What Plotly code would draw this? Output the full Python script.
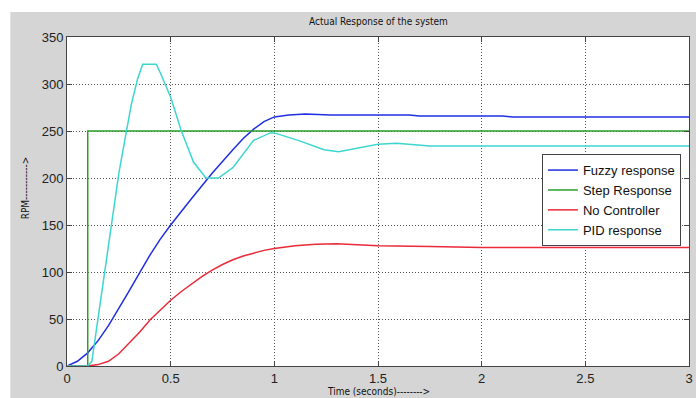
import plotly.graph_objects as go

# ---- data ----
fuzzy_t = [0, 0.05, 0.1, 0.15, 0.2, 0.25, 0.3, 0.35, 0.4, 0.45, 0.5, 0.6, 0.7, 0.8, 0.85, 0.9, 0.95, 1.0, 1.07, 1.15, 1.27, 1.65, 1.7, 2.1, 2.15, 3.0]
fuzzy_y = [0, 5, 14, 27, 43, 61, 80, 99, 118, 135, 150, 178, 205, 230, 242, 252, 260, 265, 267, 268, 267, 267, 266, 266, 265, 265]

step_t = [0, 0.1, 0.1, 3.0]
step_y = [0, 0, 250, 250]

noctl_t = [0, 0.1, 0.15, 0.2, 0.25, 0.3, 0.35, 0.4, 0.45, 0.5, 0.55, 0.6, 0.65, 0.7, 0.75, 0.8, 0.85, 0.9, 0.95, 1.0, 1.1, 1.2, 1.3, 1.4, 1.5, 1.75, 2.0, 3.0]
noctl_y = [0, 0, 1.5, 5, 13, 24, 36, 49, 60, 70, 79, 87, 95, 102, 108, 113, 117, 120, 123, 125, 128, 129.5, 130, 129, 128, 127, 126, 126]

pid_t = [0, 0.1, 0.12, 0.2, 0.25, 0.31, 0.34, 0.365, 0.43, 0.45, 0.5, 0.55, 0.61, 0.67, 0.73, 0.8, 0.9, 0.98, 1.0, 1.115, 1.24, 1.31, 1.5, 1.59, 1.75, 2.04, 3.0]
pid_y = [0, 0, 5, 130, 205, 278, 305, 321, 321, 312, 286, 251, 217, 200, 200, 211, 240, 248, 248, 240, 230, 228, 236, 237, 234, 234, 234]

x_ticks = [0, 0.5, 1, 1.5, 2, 2.5, 3]
x_tick_labels = ["0", "0.5", "1", "1.5", "2", "2.5", "3"]
y_ticks = [0, 50, 100, 150, 200, 250, 300, 350]
y_tick_labels = ["0", "50", "100", "150", "200", "250", "300", "350"]

title_text = "Actual Response of the system"
x_title = "Time (seconds)-------->"
y_title = "RPM----------->"

NARROW = "Liberation Sans Narrow, DejaVu Sans Condensed, Arial Narrow, sans-serif"
SANS = "Liberation Sans, Arial, sans-serif"

fig = go.Figure()
fig.add_trace(go.Scatter(x=fuzzy_t, y=fuzzy_y, mode="lines", name="Fuzzy response",
                         line=dict(color="#1f2fe0", width=1.5)))
fig.add_trace(go.Scatter(x=step_t, y=step_y, mode="lines", name="Step Response",
                         line=dict(color="#2aa02a", width=1.5)))
fig.add_trace(go.Scatter(x=noctl_t, y=noctl_y, mode="lines", name="No Controller",
                         line=dict(color="#ea2a38", width=1.5)))
fig.add_trace(go.Scatter(x=pid_t, y=pid_y, mode="lines", name="PID response",
                         line=dict(color="#3dd6d0", width=1.5)))

axis_common = dict(
    showline=True, linecolor="#444", linewidth=1, mirror="ticks",
    ticks="inside", ticklen=5, tickcolor="#444",
    showgrid=True, gridcolor="#555", gridwidth=1, griddash="1px,2px",
    zeroline=False, ticklabeloverflow="allow",
    tickfont=dict(family=SANS, size=13, color="#222"),
)

fig.update_xaxes(range=[0, 3], tickvals=x_ticks, ticktext=x_tick_labels, **axis_common)
fig.update_yaxes(range=[0, 350], tickvals=y_ticks, ticktext=y_tick_labels, **axis_common)

fig.update_layout(
    width=696, height=398,
    margin=dict(l=67, r=3, t=37, b=32),
    paper_bgcolor="#d5d5d5",
    plot_bgcolor="white",
    showlegend=True,
    legend=dict(
        x=0.987, y=0.644, xanchor="right", yanchor="top",
        bgcolor="white", bordercolor="#444", borderwidth=1,
        font=dict(family=SANS, size=13, color="#111"),
        tracegroupgap=0,
    ),
    shapes=[
        dict(type="rect", xref="paper", yref="paper", x0=-0.2, x1=1.1, y0=1.076, y1=1.2,
             fillcolor="white", line=dict(width=0), layer="below"),
        dict(type="rect", xref="paper", yref="paper", x0=-0.2, x1=-0.0911, y0=-0.2, y1=1.2,
             fillcolor="white", line=dict(width=0), layer="below"),
    ],
    annotations=[
        dict(text=title_text, xref="paper", yref="paper", x=0.5, y=1.0486,
             xanchor="center", yanchor="middle", showarrow=False,
             font=dict(family=NARROW, size=10, color="#111")),
        dict(text=x_title, xref="paper", yref="paper", x=0.5, y=-0.079,
             xanchor="center", yanchor="middle", showarrow=False,
             font=dict(family=NARROW, size=10, color="#111")),
        dict(text=y_title, xref="paper", yref="paper", x=-0.067, y=0.541,
             xanchor="center", yanchor="middle", showarrow=False, textangle=-90,
             font=dict(family=NARROW, size=10, color="#111")),
    ],
)

fig.write_html("out.html",
               config={"displayModeBar": False},
               post_script="document.body.style.margin='0';document.body.style.padding='0';document.body.style.overflow='hidden';")
